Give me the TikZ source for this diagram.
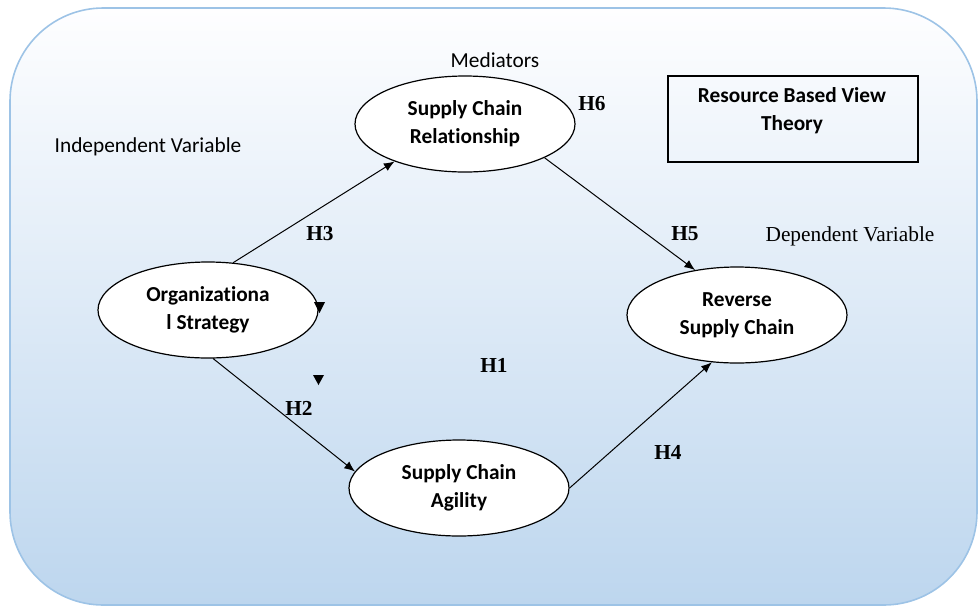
\documentclass[tikz,border=0pt]{standalone}
\usepackage{fontspec}
\setmainfont{Carlito}[Ligatures=CommonOff]
\newfontfamily\timesfont{Liberation Serif}
\usetikzlibrary{shapes.geometric,arrows.meta}
\definecolor{bgtop}{RGB}{254,254,255}
\definecolor{bgbottom}{RGB}{189,214,238}
\definecolor{bgline}{RGB}{157,195,230}
\tikzset{
  latent/.style={draw,fill=white,ellipse,line width=0.9pt,minimum width=165pt,minimum height=72pt,align=center,font=\bfseries\fontsize{16}{21}\selectfont},
  hyp/.style={font=\timesfont\bfseries\fontsize{16}{19}\selectfont},
  caption/.style={font=\fontsize{16}{19}\selectfont},
  path/.style={line width=0.75pt,-{Latex[length=8pt,width=6.5pt]}},
}
\begin{document}
\begin{tikzpicture}[x=0.75pt,y=-0.75pt]
    \useasboundingbox (0,0) rectangle (978,608);
    %% Background
    \draw[bgline,line width=1.2pt,rounded corners=70pt,top color=bgtop,bottom color=bgbottom] (10,8) rectangle (977,605);
    %% Constructs
    \node[latent] (screl) at (465,124) {Supply Chain\\Relationship};
    \node[latent] (orgstrat) at (208,310) {Organizationa\\l Strategy};
    \node[latent] (scagil) at (459,488) {Supply Chain\\Agility};
    \node[latent] (rsc) at (737,315) {Reverse\\Supply Chain};
    \node[draw,line width=1.1pt,minimum width=187.5pt,minimum height=64.5pt] (rbv) at (793,119) {};
    \node[align=center,font=\bfseries\fontsize{16}{21}\selectfont] (rbvtext) at (792,111) {Resource Based View\\Theory};
    %% Labels
    \node[caption] (med) at (495,60) {Mediators};
    \node[caption] (indep) at (148,147) {Independent Variable};
    \node[font=\timesfont\fontsize{16}{19}\selectfont] (dep) at (850,236) {Dependent Variable};
    %% Paths
    \draw[path] (orgstrat.62) -- (screl.208);
    \draw[path] (screl.337) -- (rsc.133);
    \draw[path] (orgstrat.276) -- (scagil.171);
    \draw[path] (scagil.0) -- (rsc.242);
    %% Hypotheses
    \node[hyp] at (320,234) {H3};
    \node[hyp] at (685,234) {H5};
    \node[hyp] at (592,104) {H6};
    \node[hyp] at (494,365) {H1};
    \node[hyp] at (299,408) {H2};
    \node[hyp] at (668,452) {H4};
    %% Loose arrow tips
    \fill (314,302) -- (325,302) -- (319.5,313) -- cycle;
    \fill (313,375) -- (324,375) -- (318.5,385) -- cycle;
\end{tikzpicture}
\end{document}
